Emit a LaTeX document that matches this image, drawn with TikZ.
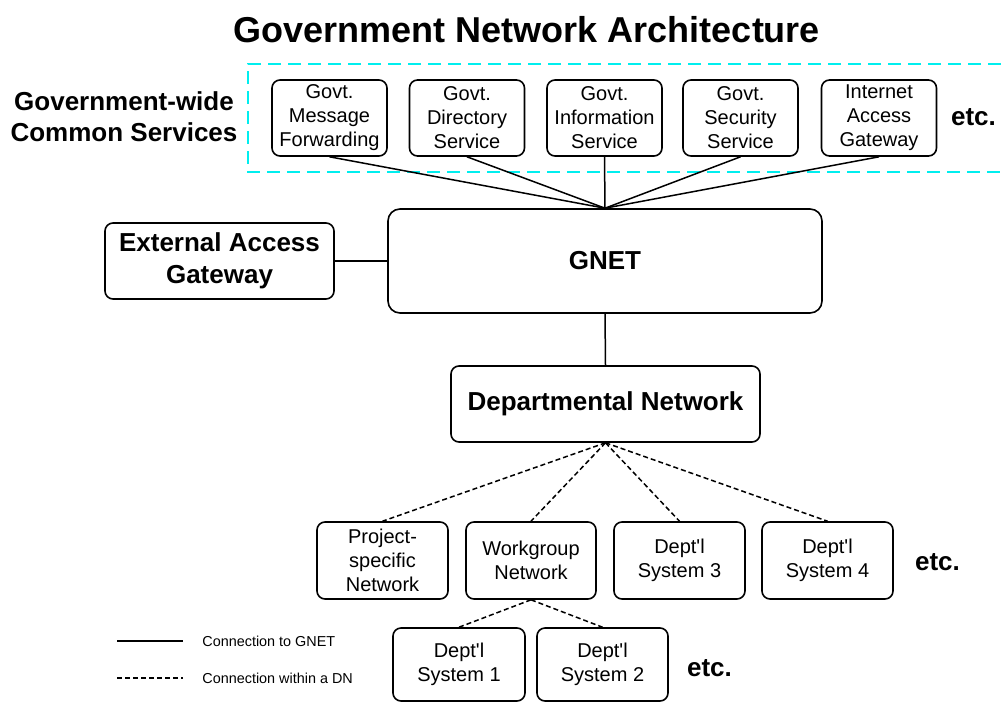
\documentclass[tikz,border=0pt]{standalone}
\usepackage{fontspec}
\setmainfont{Liberation Sans}
\newfontfamily\plainfont{Liberation Sans}
\definecolor{gcyan}{RGB}{0,238,238}
\newcommand{\apos}{{\plainfont'}}
\begin{document}
\begin{tikzpicture}[x=0.5pt,y=-0.5pt,
  box/.style={draw,line width=0.8pt,rounded corners=4pt,inner sep=0pt,align=center,font=\fontsize{10}{12}\selectfont},
  bbox/.style={draw,line width=0.8pt,rounded corners=4pt,inner sep=0pt,align=center,font=\fontsize{13}{16}\selectfont\bfseries},
  svc/.style={box,minimum width=57.5pt,minimum height=38pt},
  low/.style={box,minimum width=65.5pt,minimum height=38.5pt},
  conn/.style={line width=0.75pt},
  dnconn/.style={line width=0.75pt,dash pattern=on 2.5pt off 1.5pt},
  lbl/.style={font=\fontsize{13}{15.5}\selectfont\bfseries,align=center,inner sep=0pt},
  legtext/.style={anchor=west,inner sep=0pt,font=\fontsize{7.2}{9}\selectfont}
  ]
\useasboundingbox (0,0) rectangle (1001,702);

% title
\node[inner sep=0pt,font=\fontsize{18}{21}\selectfont\bfseries] (title) at (527,30) {Government Network Architecture};

% common services group
\draw[gcyan,line width=1pt,dash pattern=on 6.5pt off 3.5pt] (1001,64) -- (248,64) -- (248,172) -- (1001,172);
\node[lbl] (gwcs) at (124,117) {Government-wide\\Common Services};

\node[svc] (s1) at (329.5,118) {Govt.\\Message\\Forwarding};
\node[svc] (s2) at (467,118) {Govt.\\Directory\\Service};
\node[svc] (s3) at (604.5,118) {Govt.\\Information\\Service};
\node[svc] (s4) at (740.5,118) {Govt.\\Security\\Service};
\node[svc] (s5) at (879,118) {Internet\\Access\\Gateway};
\node[lbl] (etc1) at (973.5,117) {etc.};

% GNET and gateway
\node[bbox,rounded corners=6pt,minimum width=217pt,minimum height=52pt] (gnet) at (605,261) {GNET};
\node[bbox,minimum width=114.5pt,minimum height=38pt] (eag) at (219.5,261) {External Access\\Gateway};

% departmental network
\node[bbox,minimum width=154.5pt,minimum height=38pt] (dn) at (605.5,404) {Departmental Network};

% lower row
\node[low] (pj) at (382.5,560.5) {Project-\\specific\\Network};
\node[low,minimum width=65pt] (wg) at (531,560.5) {Workgroup\\Network};
\node[low] (d3) at (679.5,560.5) {Dept\apos l\\System 3};
\node[low] (d4) at (827.5,560.5) {Dept\apos l\\System 4};
\node[lbl] (etc2) at (937.5,562) {etc.};

\node[box,minimum width=66pt,minimum height=36.5pt] (d1) at (459,664.5) {Dept\apos l\\System 1};
\node[box,minimum width=65.5pt,minimum height=36.5pt] (d2) at (602.5,664.5) {Dept\apos l\\System 2};
\node[lbl] (etc3) at (709.5,668) {etc.};

% connectors
\foreach \s in {s1,s2,s3,s4,s5} \draw[conn] (\s.south) -- (gnet.north);
\draw[conn] (eag.east) -- (gnet.west);
\draw[conn] (gnet.south) -- (dn.north);
\foreach \b in {pj,wg,d3,d4} \draw[dnconn] (dn.south) -- (\b.north);
\draw[dnconn] (wg.south) -- (d1.north);
\draw[dnconn] (wg.south) -- (d2.north);

% legend
\coordinate (la1) at (117,641);
\coordinate (lb1) at (183,641);
\coordinate (la2) at (117,678);
\coordinate (lb2) at (183,678);
\draw[conn] (la1) -- (lb1);
\draw[dnconn] (la2) -- (lb2);
\node[legtext] (lt1) at (202,641) {Connection to GNET};
\node[legtext] (lt2) at (202,678) {Connection within a DN};
\end{tikzpicture}
\end{document}
